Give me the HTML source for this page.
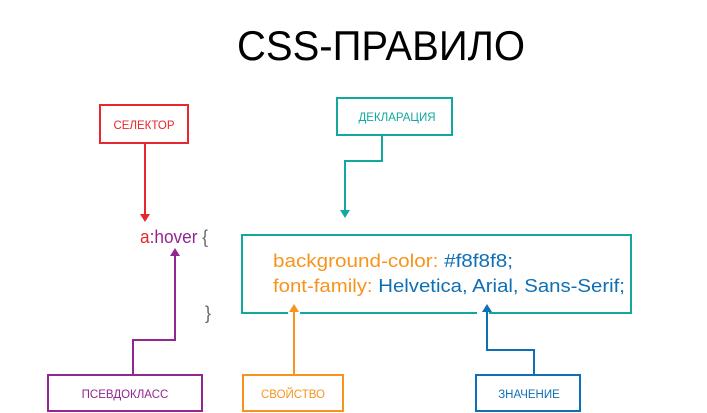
<!DOCTYPE html>
<html><head><meta charset="utf-8"><style>
body{margin:0;width:707px;height:413px;background:#fff;overflow:hidden;font-family:"Liberation Sans","DejaVu Sans",sans-serif;}
svg{display:block}
</style></head><body>
<svg width="707" height="413" viewBox="0 0 707 413" xmlns="http://www.w3.org/2000/svg">
<text x="237" y="60" textLength="288" lengthAdjust="spacingAndGlyphs" font-family="Liberation Sans, DejaVu Sans, sans-serif" font-size="42" fill="#000">CSS-ПРАВИЛО</text>
<!-- selector -->
<rect x="100" y="105" width="88" height="38" fill="none" stroke="#e8262e" stroke-width="2"/>
<text x="144" y="129" text-anchor="middle" font-size="11.5" fill="#e8262e">СЕЛЕКТОР</text>
<path d="M145 143 V216" stroke="#e8262e" stroke-width="2" fill="none"/>
<path d="M140 214 L145 222 L150 214 Z" fill="#e8262e"/>
<!-- declaration -->
<rect x="337" y="98" width="115" height="37" fill="none" stroke="#13a89e" stroke-width="2"/>
<text x="397" y="121" text-anchor="middle" font-size="11.5" fill="#13a89e">ДЕКЛАРАЦИЯ</text>
<path d="M382 135 V161 H345 V212" stroke="#13a89e" stroke-width="2" fill="none"/>
<path d="M340 210 L345 218 L350 210 Z" fill="#13a89e"/>
<!-- main box -->
<rect x="242" y="235" width="389" height="78" fill="none" stroke="#13a89e" stroke-width="2"/>
<rect x="288" y="310" width="12" height="6" fill="#fff"/>
<rect x="477" y="310" width="12" height="6" fill="#fff"/>
<text x="140" y="243" font-size="18" textLength="68" lengthAdjust="spacingAndGlyphs"><tspan fill="#e8262e">a</tspan><tspan fill="#92278f">:hover</tspan><tspan fill="#666"> {</tspan></text>
<text x="205" y="319" font-size="18" fill="#666">}</text>
<text x="273" y="267" font-size="18.5" textLength="240" lengthAdjust="spacingAndGlyphs"><tspan fill="#f7941d">background-color: </tspan><tspan fill="#0f6fb5">#f8f8f8;</tspan></text>
<text x="273" y="292" font-size="18.5" textLength="352" lengthAdjust="spacingAndGlyphs"><tspan fill="#f7941d">font-family: </tspan><tspan fill="#0f6fb5">Helvetica, Arial, Sans-Serif;</tspan></text>
<!-- pseudo -->
<rect x="48" y="375" width="154" height="36" fill="none" stroke="#92278f" stroke-width="2"/>
<text x="125" y="398" text-anchor="middle" font-size="11.5" fill="#92278f">ПСЕВДОКЛАСС</text>
<path d="M133 375 V340 H175 V254" stroke="#92278f" stroke-width="2" fill="none"/>
<path d="M170 256 L175 248 L180 256 Z" fill="#92278f"/>
<!-- property -->
<rect x="243" y="375" width="100" height="36" fill="none" stroke="#f7941d" stroke-width="2"/>
<text x="293" y="398" text-anchor="middle" font-size="11.5" fill="#f7941d">СВОЙСТВО</text>
<path d="M294 375 V310" stroke="#f7941d" stroke-width="2" fill="none"/>
<path d="M289 312 L294 304 L299 312 Z" fill="#f7941d"/>
<!-- value -->
<rect x="476" y="375" width="104" height="36" fill="none" stroke="#0f6fb5" stroke-width="2"/>
<text x="529" y="398" text-anchor="middle" font-size="11.5" fill="#0f6fb5">ЗНАЧЕНИЕ</text>
<path d="M534 375 V350 H487 V310" stroke="#0f6fb5" stroke-width="2" fill="none"/>
<path d="M482 312 L487 304 L492 312 Z" fill="#0f6fb5"/>
</svg>
</body></html>
